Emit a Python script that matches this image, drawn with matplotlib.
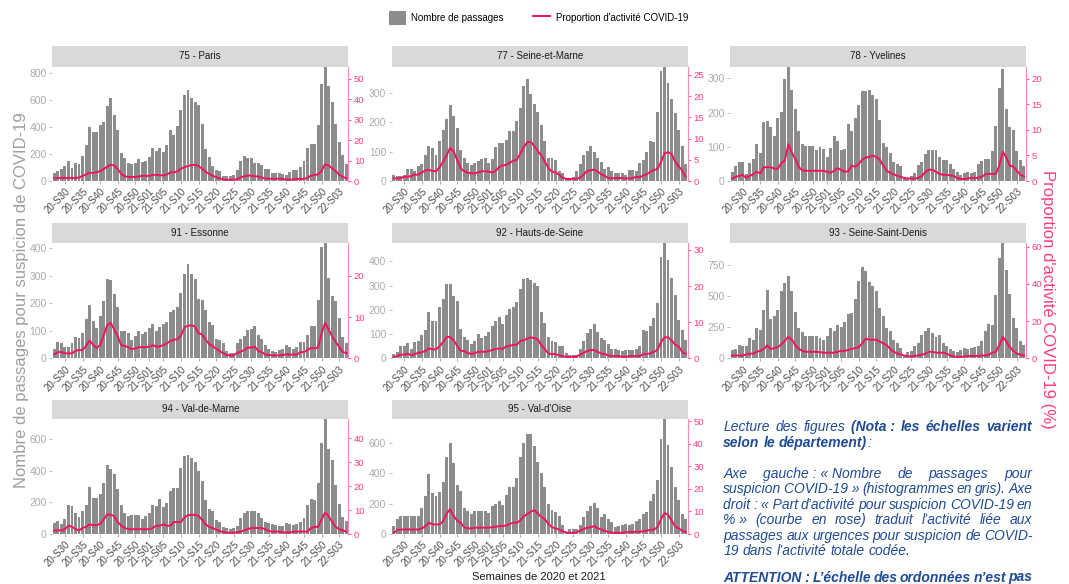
import matplotlib
matplotlib.use('Agg')
import matplotlib.pyplot as plt
from matplotlib.patches import Patch
from matplotlib.lines import Line2D
from matplotlib.ticker import MultipleLocator

plt.rcParams['font.family'] = ['Liberation Sans', 'DejaVu Sans']

W, H = 1069, 584

# semaines 2020-S27 .. 2022-S05
weeks = ([f"20-S{w}" for w in range(27, 54)]
         + [f"21-S{w:02d}" for w in range(1, 53)]
         + [f"22-S{w:02d}" for w in range(1, 6)])
tick_labels = ["20-S30", "20-S35", "20-S40", "20-S45", "20-S50", "21-S01", "21-S05",
               "21-S10", "21-S15", "21-S20", "21-S25", "21-S30", "21-S35", "21-S40",
               "21-S45", "21-S50", "22-S03"]

departements = ["75 - Paris", "77 - Seine-et-Marne", "78 - Yvelines", "91 - Essonne",
                "92 - Hauts-de-Seine", "93 - Seine-Saint-Denis", "94 - Val-de-Marne",
                "95 - Val-d'Oise"]

passages_75 = [59, 73, 88, 113, 147, 95, 130, 122, 186, 264,
               399, 362, 362, 411, 435, 553, 612, 487, 374, 208,
               171, 130, 125, 133, 159, 139, 144, 179, 247, 220,
               242, 215, 269, 374, 337, 406, 526, 636, 668, 612,
               580, 563, 418, 235, 179, 113, 83, 73, 37, 34,
               37, 46, 83, 147, 183, 171, 171, 135, 135, 115,
               91, 91, 61, 61, 61, 54, 46, 66, 81, 81,
               100, 147, 240, 272, 272, 411, 717, 845, 700, 585,
               420, 290, 190, 127]
prop_75 = [1.3, 1.5, 1.5, 1.5, 1.5, 1.5, 1.5, 1.7, 2.5, 3.2,
           4.0, 4.0, 4.3, 4.8, 5.8, 7.0, 7.9, 7.6, 5.8, 3.5,
           2.3, 2.0, 2.0, 2.0, 2.2, 2.5, 2.5, 2.5, 3.0, 3.0,
           2.8, 2.7, 3.2, 4.2, 4.2, 4.8, 6.0, 6.8, 7.3, 7.8,
           7.9, 7.3, 6.0, 4.5, 3.5, 2.6, 1.8, 1.3, 0.8, 0.6,
           0.6, 0.6, 0.9, 1.8, 2.3, 2.7, 2.6, 2.3, 2.2, 1.6,
           1.2, 1.1, 1.1, 1.1, 1.1, 1.0, 0.7, 0.6, 0.8, 1.0,
           1.0, 1.0, 1.6, 2.6, 3.0, 3.2, 5.0, 8.2, 7.6, 6.2,
           4.8, 3.2, 2.0, 1.4]

passages_77 = [20, 18, 18, 20, 40, 42, 35, 52, 57, 87,
               118, 113, 88, 137, 173, 212, 260, 222, 182, 107,
               78, 63, 55, 60, 68, 75, 80, 62, 75, 115,
               130, 130, 140, 172, 170, 205, 247, 322, 347, 298,
               262, 235, 190, 137, 80, 78, 70, 35, 28, 10,
               10, 12, 35, 58, 90, 103, 118, 100, 78, 65,
               42, 48, 35, 28, 28, 28, 22, 38, 37, 35,
               63, 73, 100, 135, 133, 235, 375, 390, 333, 280,
               230, 175, 120, 58]
prop_77 = [0.6, 0.6, 0.7, 1.0, 1.0, 1.2, 1.5, 1.5, 2.0, 2.5,
           2.6, 2.4, 2.3, 3.2, 4.5, 6.0, 7.8, 7.0, 5.0, 3.0,
           2.3, 2.0, 1.8, 1.8, 2.0, 2.3, 2.3, 2.2, 2.0, 2.4,
           3.3, 3.7, 3.8, 4.3, 4.8, 5.0, 6.5, 8.0, 9.2, 9.2,
           8.2, 7.0, 6.0, 4.5, 3.0, 2.2, 2.0, 1.5, 0.8, 0.5,
           0.5, 0.5, 0.5, 0.8, 1.5, 2.4, 2.5, 2.7, 2.2, 1.6,
           1.2, 0.7, 0.6, 0.7, 0.7, 0.7, 0.6, 0.6, 0.7, 1.0,
           0.9, 1.3, 1.6, 2.2, 2.6, 2.8, 4.5, 6.5, 6.8, 6.4,
           4.6, 3.5, 2.5, 1.0]

passages_78 = [25, 45, 57, 57, 20, 52, 65, 108, 82, 173,
               175, 158, 133, 183, 203, 297, 335, 265, 212, 145,
               107, 102, 102, 103, 90, 100, 95, 70, 97, 133,
               118, 90, 93, 168, 147, 185, 222, 262, 262, 265,
               252, 240, 178, 112, 100, 83, 57, 50, 43, 12,
               8, 15, 22, 47, 55, 78, 90, 90, 90, 70,
               60, 60, 50, 35, 25, 18, 22, 27, 22, 25,
               50, 58, 65, 65, 88, 160, 273, 327, 212, 158,
               148, 87, 60, 45]
prop_78 = [0.5, 0.8, 1.0, 1.2, 0.6, 1.0, 1.3, 1.8, 1.5, 2.7,
           2.7, 2.7, 2.4, 2.4, 3.5, 4.0, 7.2, 5.5, 4.3, 2.7,
           2.1, 2.0, 2.0, 2.0, 2.0, 2.0, 2.0, 1.8, 1.6, 2.0,
           2.5, 2.2, 1.8, 1.9, 3.0, 2.8, 3.3, 4.2, 4.6, 4.7,
           5.0, 4.7, 4.2, 3.0, 2.0, 1.6, 1.3, 1.0, 0.8, 0.6,
           0.5, 0.5, 0.5, 0.6, 1.0, 1.8, 2.2, 2.2, 1.8, 1.4,
           1.2, 1.2, 1.1, 1.0, 0.6, 0.4, 0.4, 0.5, 0.6, 0.6,
           0.6, 0.8, 1.3, 1.4, 1.4, 1.4, 3.0, 5.7, 4.6, 3.0,
           2.8, 2.0, 1.2, 0.9]

passages_91 = [33, 60, 57, 42, 42, 55, 78, 72, 93, 143,
               195, 135, 110, 155, 208, 288, 285, 233, 185, 100,
               100, 93, 67, 82, 100, 90, 97, 110, 125, 100,
               115, 125, 132, 168, 175, 188, 238, 307, 342, 307,
               288, 215, 210, 175, 132, 120, 70, 68, 55, 25,
               20, 18, 55, 70, 82, 103, 107, 118, 85, 70,
               50, 35, 25, 22, 30, 33, 50, 40, 35, 40,
               58, 58, 85, 117, 117, 212, 405, 420, 290, 227,
               207, 148, 78, 55]
prop_91 = [1.0, 1.5, 1.5, 1.2, 1.2, 1.2, 1.8, 2.0, 2.0, 3.0,
           4.3, 3.3, 2.5, 3.2, 5.5, 8.0, 8.6, 7.0, 5.3, 3.2,
           3.0, 2.7, 2.2, 2.4, 2.7, 2.7, 2.7, 2.8, 3.2, 2.8,
           2.9, 3.2, 3.6, 4.2, 4.5, 4.6, 5.5, 7.5, 7.9, 8.0,
           7.7, 6.0, 5.8, 4.5, 3.5, 3.0, 2.3, 1.8, 1.2, 0.8,
           0.7, 0.7, 1.3, 1.6, 2.0, 2.6, 2.6, 2.8, 1.8, 1.5,
           0.9, 0.8, 0.7, 0.7, 0.7, 0.8, 1.0, 0.9, 0.9, 0.9,
           1.5, 1.5, 2.0, 2.5, 2.4, 2.6, 6.0, 8.6, 7.0, 5.3,
           4.0, 2.8, 1.5, 1.3]

passages_92 = [18, 28, 50, 52, 62, 38, 67, 70, 97, 115,
               193, 152, 153, 210, 245, 305, 305, 257, 235, 120,
               88, 77, 57, 70, 102, 85, 90, 108, 133, 152,
               172, 140, 178, 205, 210, 232, 288, 328, 333, 325,
               312, 297, 190, 145, 88, 70, 68, 52, 50, 20,
               12, 13, 15, 37, 72, 105, 120, 143, 110, 82,
               75, 60, 37, 37, 33, 30, 35, 35, 33, 37,
               50, 115, 112, 132, 165, 228, 420, 477, 405, 333,
               262, 158, 115, 77]
prop_92 = [0.3, 0.7, 1.0, 1.0, 1.3, 0.8, 1.2, 1.5, 1.7, 2.0,
           2.7, 2.5, 2.5, 3.3, 4.5, 5.9, 5.9, 5.0, 3.5, 2.1,
           2.0, 1.5, 1.2, 1.4, 1.8, 1.8, 1.8, 2.0, 2.3, 2.6,
           2.7, 2.6, 3.3, 3.5, 3.7, 3.8, 4.8, 5.0, 5.5, 5.8,
           5.6, 5.2, 3.5, 2.5, 1.3, 1.2, 1.2, 0.8, 0.6, 0.4,
           0.4, 0.4, 0.5, 1.0, 1.5, 2.0, 2.3, 2.3, 1.8, 1.3,
           1.2, 0.8, 0.6, 0.6, 0.6, 0.4, 0.4, 0.6, 0.6, 0.6,
           0.6, 1.2, 1.2, 1.4, 1.8, 2.3, 4.5, 5.8, 5.8, 5.0,
           3.8, 3.3, 1.8, 1.2]

passages_93 = [70, 75, 108, 97, 97, 165, 150, 240, 230, 390,
               548, 315, 335, 390, 540, 600, 662, 535, 370, 240,
               208, 175, 175, 175, 175, 165, 150, 175, 240, 220,
               265, 252, 293, 355, 360, 478, 620, 733, 695, 610,
               580, 535, 405, 335, 245, 220, 150, 120, 85, 25,
               50, 62, 100, 120, 190, 215, 240, 205, 170, 185,
               125, 100, 75, 55, 50, 70, 80, 75, 80, 90,
               95, 140, 220, 275, 265, 510, 800, 925, 710, 515,
               320, 245, 135, 105]
prop_93 = [1.5, 1.5, 1.5, 1.5, 2.0, 2.5, 2.5, 3.5, 4.0, 5.0,
           7.0, 5.0, 5.5, 6.0, 7.5, 9.5, 11.5, 10.0, 7.0, 5.0,
           4.0, 3.5, 3.5, 3.5, 3.5, 3.3, 3.0, 3.0, 3.0, 3.0,
           3.5, 4.0, 4.0, 4.5, 5.0, 5.5, 6.0, 8.0, 10.5, 10.0,
           10.0, 10.0, 9.0, 8.0, 7.0, 5.0, 3.5, 2.5, 2.0, 1.5,
           1.0, 1.0, 1.3, 1.5, 2.0, 2.5, 3.5, 3.5, 3.0, 3.0,
           3.0, 2.5, 1.5, 1.0, 0.8, 0.7, 1.0, 1.2, 1.2, 1.2,
           1.3, 1.5, 1.5, 2.0, 3.0, 3.5, 7.0, 11.5, 9.0, 6.0,
           4.0, 2.5, 2.0, 1.5]

passages_94 = [70, 85, 65, 95, 185, 175, 135, 105, 145, 185,
               298, 228, 225, 250, 322, 433, 413, 380, 283, 185,
               135, 115, 120, 120, 120, 95, 112, 133, 180, 175,
               223, 170, 195, 273, 288, 290, 418, 490, 500, 480,
               453, 398, 335, 212, 160, 143, 90, 75, 45, 35,
               30, 40, 50, 100, 133, 148, 148, 148, 130, 100,
               75, 70, 62, 55, 50, 48, 70, 60, 55, 65,
               75, 100, 180, 222, 212, 320, 575, 726, 535, 465,
               310, 190, 105, 85]
prop_94 = [1.5, 1.5, 1.5, 2.0, 3.5, 3.0, 2.0, 1.5, 2.5, 3.0,
           4.0, 3.7, 3.7, 4.2, 6.0, 8.2, 8.0, 7.5, 5.0, 3.5,
           2.5, 2.0, 2.0, 2.0, 2.0, 2.0, 2.0, 2.0, 2.5, 3.5,
           3.5, 4.0, 3.5, 3.5, 5.0, 5.0, 5.0, 7.0, 7.8, 8.0,
           8.0, 7.5, 6.0, 4.0, 3.0, 2.5, 1.8, 1.2, 0.8, 0.6,
           0.5, 0.5, 0.7, 1.0, 1.5, 2.0, 2.5, 2.5, 2.5, 2.5,
           2.0, 1.2, 1.0, 1.0, 1.0, 0.7, 0.6, 0.6, 1.0, 1.0,
           1.0, 1.0, 1.0, 2.5, 3.0, 3.0, 6.0, 9.0, 7.5, 5.0,
           3.0, 2.0, 1.5, 1.0]

passages_95 = [50, 100, 120, 120, 120, 120, 120, 120, 175, 248,
               395, 270, 250, 280, 345, 510, 602, 472, 322, 283,
               170, 150, 135, 155, 155, 155, 155, 140, 183, 195,
               220, 193, 255, 310, 308, 372, 512, 603, 660, 660,
               580, 478, 405, 310, 200, 160, 143, 118, 62, 15,
               30, 30, 30, 62, 110, 155, 182, 208, 175, 115,
               130, 97, 82, 47, 52, 60, 65, 60, 68, 85,
               100, 130, 148, 218, 265, 355, 630, 760, 590, 440,
               310, 225, 130, 97]
prop_95 = [0.5, 1.8, 2.0, 2.0, 2.0, 2.0, 2.0, 2.0, 2.5, 3.5,
           5.0, 4.3, 4.2, 4.3, 5.5, 9.0, 11.0, 8.0, 6.0, 5.0,
           3.0, 2.5, 2.5, 2.8, 2.8, 2.8, 2.8, 2.8, 3.0, 3.2,
           3.5, 3.5, 3.8, 4.5, 5.0, 5.0, 6.0, 8.0, 8.8, 10.0,
           10.5, 9.0, 7.5, 6.5, 4.5, 3.0, 2.5, 2.0, 1.2, 0.7,
           0.5, 0.5, 0.7, 1.5, 2.2, 2.8, 3.0, 3.5, 2.5, 2.0,
           1.5, 0.8, 0.6, 0.5, 0.5, 0.5, 0.8, 0.8, 0.8, 1.0,
           1.0, 1.2, 1.5, 1.8, 2.0, 3.0, 6.5, 9.3, 8.5, 6.0,
           3.5, 2.5, 1.5, 0.8]

passages = [passages_75, passages_77, passages_78, passages_91,
            passages_92, passages_93, passages_94, passages_95]
proportions = [prop_75, prop_77, prop_78, prop_91, prop_92, prop_93, prop_94, prop_95]
for p, q in zip(passages, proportions):
    assert len(p) == len(weeks) and len(q) == len(weeks), (len(p), len(q))

# echelles de chaque panneau
pas_gauche = [200, 100, 100, 100, 100, 250, 200, 200]
pas_droite = [10, 5, 5, 10, 10, 20, 10, 10]
max_droite = [56, 27, 22.4, 28, 32, 62.2, 48, 51]

BAR = '#8C8C8C'
PINK = '#F0145C'
PINK_AX = '#FF3D84'
BLUE = '#1F4A96'

fig = plt.figure(figsize=(W / 100, H / 100), dpi=100)

col_x = [52.3, 391.7, 730.0]
pan_w = 296.0
rows = [(46.0, 66.5, 181.0), (223.3, 242.7, 358.3), (400.0, 419.0, 534.0)]


def px_box(x0, y0, x1, y1):
    return [x0 / W, 1 - y1 / H, (x1 - x0) / W, (y1 - y0) / H]


x = list(range(len(weeks)))
tick_pos = [weeks.index(t) for t in tick_labels]

for i, dep in enumerate(departements):
    r, c = divmod(i, 3)
    s_top, p_top, p_bot = rows[r]
    x0 = col_x[c]

    strip = fig.add_axes(px_box(x0, s_top, x0 + pan_w, p_top))
    strip.set_facecolor('#D9D9D9')
    strip.set_xticks([]); strip.set_yticks([])
    for sp in strip.spines.values():
        sp.set_visible(False)
    strip.text(0.5, 0.5, dep, ha='center', va='center', fontsize=7, color='#1A1A1A',
               transform=strip.transAxes)

    ax = fig.add_axes(px_box(x0, p_top, x0 + pan_w, p_bot))
    ax.bar(x, passages[i], width=0.84, color=BAR, linewidth=0)
    ax.set_xlim(-0.6, len(weeks) - 0.4)
    ax.set_ylim(0, max(passages[i]))
    ax.yaxis.set_major_locator(MultipleLocator(pas_gauche[i]))
    ax.set_xticks(tick_pos)
    ax.set_xticklabels(tick_labels, rotation=45, ha='right', rotation_mode='anchor',
                       fontsize=7, color='#4D4D4D')
    ax.tick_params(axis='x', length=2.5, width=0.6, color='#999999', pad=1.5)
    ax.tick_params(axis='y', length=2.5, width=0.6, color='#B3B3B3', labelcolor='#ABABAB',
                   labelsize=7.5, pad=1.5)
    for sp in ['top', 'left', 'bottom', 'right']:
        ax.spines[sp].set_visible(False)

    ax2 = ax.twinx()
    ax2.plot(x, proportions[i], color=PINK, lw=1.4)
    ax2.set_ylim(0, max_droite[i])
    ax2.yaxis.set_major_locator(MultipleLocator(pas_droite[i]))
    ax2.tick_params(axis='y', length=2.5, width=0.6, color=PINK_AX, labelcolor=PINK_AX,
                    labelsize=6.8, pad=1.5)
    for sp in ['top', 'left', 'bottom']:
        ax2.spines[sp].set_visible(False)
    ax2.spines['right'].set_color('#FF8AB5')
    ax2.spines['right'].set_linewidth(0.8)

# titres d'axes
fig.text(22 / W, 1 - 300 / H, "Nombre de passages pour suspicion de COVID-19", rotation=90,
         ha='center', va='center', fontsize=12, color='#9E9E9E')
fig.text(1048 / W, 1 - 299 / H, "Proportion d'activité COVID-19 (%)", rotation=-90,
         ha='center', va='center', fontsize=12, color=PINK_AX)
fig.text(539 / W, 1 - 577 / H, "Semaines de 2020 et 2021", ha='center', va='center',
         fontsize=8, color='#1A1A1A')

# legende
handles = [Patch(facecolor=BAR, edgecolor='none'), Line2D([], [], color=PINK, lw=1.4)]
fig.legend(handles, ["Nombre de passages", "Proportion d'activité COVID-19"], ncol=2,
           frameon=False, fontsize=7, loc='center', bbox_to_anchor=(538.5 / W, 1 - 18 / H),
           handlelength=1.7, handleheight=1.7, handletextpad=0.6, columnspacing=3.0)

# encadre de lecture (texte justifie)
lignes = [
    ("Lecture des figures *(Nota\u00a0: les échelles varient*", 431, True),
    ("*selon le département)*:", 446.7, False),
    ("Axe gauche\u00a0:\u00a0«\u00a0Nombre de passages pour", 477.7, True),
    ("suspicion COVID-19\u00a0» (histogrammes en gris). Axe", 493.3, True),
    ("droit\u00a0: «\u00a0Part d’activité pour suspicion COVID-19 en", 509, True),
    ("%\u00a0» (courbe en rose) traduit l’activité liée aux", 524.3, True),
    ("passages aux urgences pour suspicion de COVID-", 540, True),
    ("19 dans l’activité totale codée.", 555, False),
    ("*ATTENTION\u00a0: L’échelle des ordonnées n’est pas*", 581.5, True),
]
x_left, x_right = 723.3, 1032.3
fs = 10
rend = fig.canvas.get_renderer()

for txt, yb, just in lignes:
    words = []
    cur = []
    buf = ''
    bold = False
    for ch in txt:
        if ch == '*':
            if buf:
                cur.append((buf, bold)); buf = ''
            bold = not bold
        elif ch == ' ':
            if buf:
                cur.append((buf, bold)); buf = ''
            if cur:
                words.append(cur); cur = []
        else:
            buf += ch
    if buf:
        cur.append((buf, bold))
    if cur:
        words.append(cur)

    objs = []
    for wd in words:
        runs = []
        for s, b in wd:
            t = fig.text(0, 1 - yb / H, s, fontsize=fs, style='italic',
                         weight='bold' if b else 'normal', color=BLUE, va='baseline', ha='left')
            runs.append((t, t.get_window_extent(rend).width))
        objs.append(runs)
    widths = [sum(w for _, w in runs) for runs in objs]
    if just and len(objs) > 1:
        gap = (x_right - x_left - sum(widths)) / (len(objs) - 1)
    else:
        gap = 0.278 * fs * 100 / 72
    xp = x_left
    for runs, wsum in zip(objs, widths):
        xx = xp
        for t, w in runs:
            t.set_x(xx / W)
            xx += w
        xp += wsum + gap

fig.savefig('out.png', dpi=100)
